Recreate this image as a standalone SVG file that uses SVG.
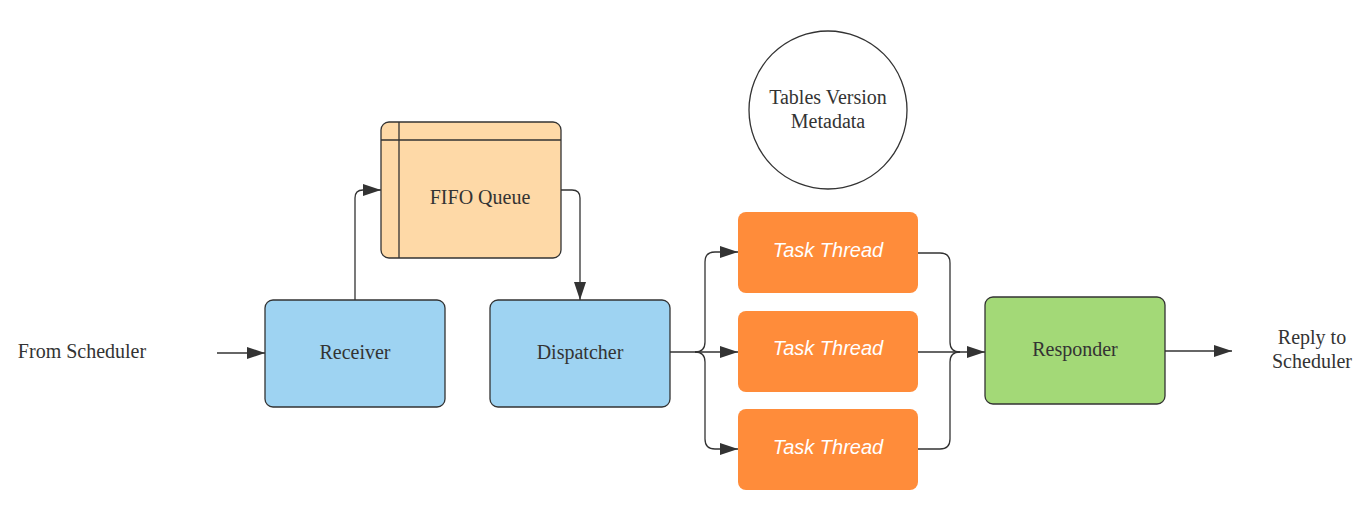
<svg xmlns="http://www.w3.org/2000/svg" width="1362" height="531" viewBox="0 0 1362 531">
<defs>
<marker id="ahb" viewBox="0 0 10 10" refX="10" refY="5" markerWidth="18" markerHeight="12" markerUnits="userSpaceOnUse" orient="auto" preserveAspectRatio="none">
<path d="M0,0 L10,5 L0,10 z" fill="#333"/>
</marker>
<style>
.lbl{font-family:"Liberation Serif",serif;font-size:20px;fill:#333;text-anchor:middle;dominant-baseline:central}
.tt{font-family:"Liberation Sans",Arial,sans-serif;font-size:20px;font-style:italic;fill:#fff;text-anchor:middle;dominant-baseline:central}
.blue{fill:#9ed3f2;stroke:#333;stroke-width:1.3}
.task{fill:#ff8c3a}
.con{fill:none;stroke:#333;stroke-width:1.3}
</style>
</defs>
<rect width="1362" height="531" fill="#fff"/>
<g id="connectors">
<path class="con" d="M217,353 H265" marker-end="url(#ahb)"/>
<path class="con" d="M355,300 V198 Q355,190 363,190 H381" marker-end="url(#ahb)"/>
<path class="con" d="M561,190 H572 Q580,190 580,198 V300" marker-end="url(#ahb)"/>
<path class="con" d="M670,352 H738" marker-end="url(#ahb)"/>
<path class="con" d="M695,352 Q705,352 705,342 V262 Q705,252 715,252 H738" marker-end="url(#ahb)"/>
<path class="con" d="M695,352 Q705,352 705,362 V439 Q705,449 715,449 H738" marker-end="url(#ahb)"/>
<path class="con" d="M917,352 H985" marker-end="url(#ahb)"/>
<path class="con" d="M917,253 H940 Q950,253 950,263 V342 Q950,352 960,352"/>
<path class="con" d="M917,449 H940 Q950,449 950,439 V362 Q950,352 960,352"/>
<path class="con" d="M1165,351 H1232" marker-end="url(#ahb)"/>
</g>
<g id="from-scheduler"><text class="lbl" x="82" y="351">From Scheduler</text></g>
<g id="receiver"><rect class="blue" x="265" y="300" width="180" height="107" rx="8"/><text class="lbl" x="355" y="352">Receiver</text></g>
<g id="fifo-queue">
<rect x="381" y="122" width="180" height="136" rx="8" fill="#fed9a7" stroke="#333" stroke-width="1.3"/>
<path d="M381,140 H561 M399,122 V258" stroke="#333" stroke-width="1.3" fill="none"/>
<text class="lbl" x="480" y="197">FIFO Queue</text>
</g>
<g id="dispatcher"><rect class="blue" x="490" y="300" width="180" height="107" rx="8"/><text class="lbl" x="580" y="352">Dispatcher</text></g>
<g id="metadata"><circle cx="828" cy="110" r="79" fill="#fff" stroke="#333" stroke-width="1.3"/><text class="lbl" x="828" y="97">Tables Version</text><text class="lbl" x="828" y="121">Metadata</text></g>
<g id="task-thread-1"><rect class="task" x="738" y="212" width="180" height="81" rx="8"/><text class="tt" x="828" y="250">Task Thread</text></g>
<g id="task-thread-2"><rect class="task" x="738" y="311" width="180" height="81" rx="8"/><text class="tt" x="828" y="348">Task Thread</text></g>
<g id="task-thread-3"><rect class="task" x="738" y="409" width="180" height="81" rx="8"/><text class="tt" x="828" y="447">Task Thread</text></g>
<g id="responder"><rect x="985" y="297" width="180" height="107" rx="8" fill="#a3d977" stroke="#333" stroke-width="1.3"/><text class="lbl" x="1075" y="349">Responder</text></g>
<g id="reply-to-scheduler"><text class="lbl" x="1312" y="337">Reply to</text><text class="lbl" x="1312" y="361">Scheduler</text></g>
</svg>
